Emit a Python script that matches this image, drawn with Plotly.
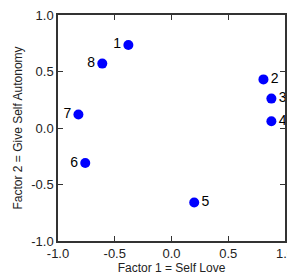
import plotly.graph_objects as go

labels = ["1", "2", "3", "4", "5", "6", "7", "8"]
factor1 = [-0.38, 0.81, 0.88, 0.88, 0.20, -0.76, -0.82, -0.61]
factor2 = [0.735, 0.43, 0.26, 0.06, -0.66, -0.31, 0.12, 0.57]
label_side = ["middle left", "middle right", "middle right", "middle right",
              "middle right", "middle left", "middle left", "middle left"]
ticks = [-1.0, -0.5, 0.0, 0.5, 1.0]
tick_text = ["-1.0", "-0.5", "0.0", "0.5", "1.0"]

fig = go.Figure()
fig.add_trace(go.Scatter(
    x=factor1, y=factor2, mode="markers+text", text=labels,
    textposition=label_side,
    textfont=dict(family="Liberation Sans, Arial", size=14, color="black"),
    marker=dict(color="#0000ff", size=10),
    cliponaxis=False, showlegend=False,
))

axis_common = dict(
    range=[-1, 1], tickvals=ticks, ticktext=tick_text,
    ticks="inside", ticklen=5, tickcolor="#333", tickwidth=1,
    showline=True, linecolor="#333", linewidth=1.5, mirror="ticks",
    showgrid=False, zeroline=False, automargin=False,
    ticklabeloverflow="allow",
    tickfont=dict(family="Liberation Sans, Arial", size=13, color="#222"),
    title_font=dict(family="Liberation Sans, Arial", size=12, color="#222"),
)

# the page body adds an 8px offset, so the figure is 8px smaller
fig.update_layout(
    width=287, height=269,
    margin=dict(l=50, r=10, t=7, b=36),
    paper_bgcolor="white", plot_bgcolor="white",
    xaxis=dict(axis_common, title=dict(text="Factor 1 = Self Love", standoff=2)),
    yaxis=dict(axis_common, title=dict(text="Factor 2 = Give Self Autonomy", standoff=6)),
)

fig.write_html("out.html")
